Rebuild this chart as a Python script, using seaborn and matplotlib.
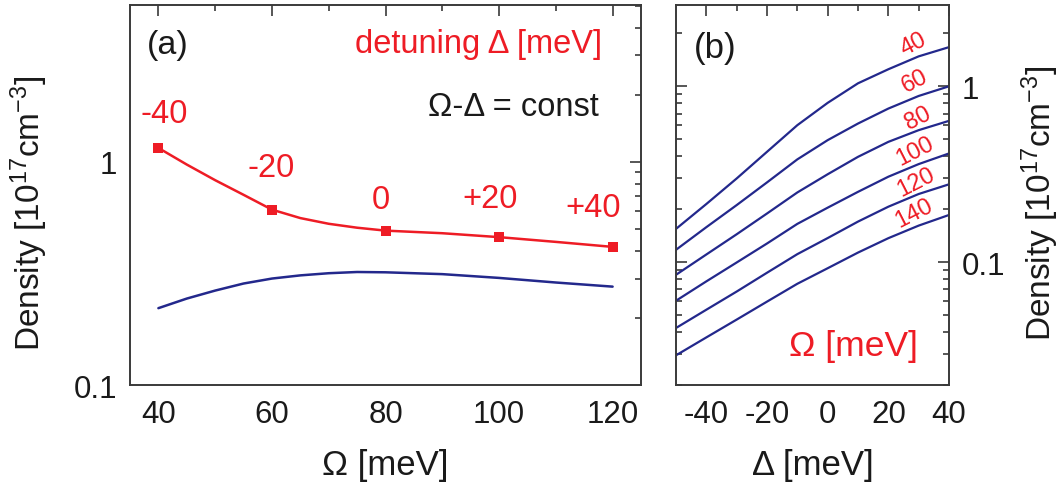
import numpy as np
import pandas as pd
import matplotlib
matplotlib.use("Agg")
import matplotlib.pyplot as plt
import seaborn as sns
from matplotlib.ticker import FixedLocator, FixedFormatter, NullFormatter

# ---------------- data ----------------
# panel (a)
omega_pts = [40, 60, 80, 100, 120]
density_pts = [1.155, 0.611, 0.492, 0.460, 0.416]
detuning_labels = ["-40", "-20", "0", "+20", "+40"]
label_omega = [41.1, 59.8, 79.2, 98.4, 116.5]
label_density = [1.64, 0.94, 0.677, 0.683, 0.625]

omega_curve = [40, 45, 50, 55, 60, 65, 70, 75, 80, 90, 100, 110, 120]
red_curve = [1.155, 0.973, 0.828, 0.712, 0.611, 0.560, 0.528, 0.507, 0.492, 0.479, 0.460, 0.438, 0.416]
blue_curve = [0.221, 0.244, 0.265, 0.285, 0.300, 0.310, 0.317, 0.321, 0.320, 0.314, 0.302, 0.288, 0.276]

# panel (b)
delta = [-50, -40, -30, -20, -10, 0, 10, 20, 30, 40]
omega_values = ["40", "60", "80", "100", "120", "140"]
dens_40 = [0.1545, 0.214, 0.299, 0.424, 0.601, 0.805, 1.04, 1.25, 1.48, 1.67]
dens_60 = [0.1175, 0.158, 0.211, 0.284, 0.384, 0.494, 0.614, 0.747, 0.881, 1.0]
dens_80 = [0.0847, 0.1105, 0.144, 0.189, 0.249, 0.316, 0.397, 0.483, 0.563, 0.636]
dens_100 = [0.0603, 0.0777, 0.0995, 0.1276, 0.165, 0.204, 0.251, 0.306, 0.361, 0.415]
dens_120 = [0.0422, 0.0536, 0.068, 0.087, 0.111, 0.137, 0.170, 0.2066, 0.244, 0.277]
dens_140 = [0.0295, 0.0373, 0.0471, 0.0596, 0.0753, 0.0923, 0.1133, 0.1368, 0.1613, 0.1854]
curve_label_delta = [28.4, 28.8, 29.75, 28.8, 29.1, 28.4]
curve_label_density = [1.75, 1.07, 0.667, 0.428, 0.285, 0.19]

# ---------------- style ----------------
sns.set_theme(style="white")
plt.rcParams["font.family"] = ["Liberation Sans", "DejaVu Sans"]
plt.rcParams["mathtext.fontset"] = "custom"
plt.rcParams["mathtext.rm"] = "Liberation Sans"
plt.rcParams["mathtext.it"] = "Liberation Sans:italic"
plt.rcParams["axes.unicode_minus"] = False

RED = "#ee1c25"
BLUE = "#23288c"
SPINE = "#3a3a3a"
TXT = "#1a1a1a"

W, H = 1063, 485
fig = plt.figure(figsize=(W / 100, H / 100), dpi=100)
fig.patch.set_facecolor("white")

def frac(l, t, r, b):
    return [l / W, (H - b) / H, (r - l) / W, (b - t) / H]

axA = fig.add_axes(frac(130, 6, 641, 386))
axB = fig.add_axes(frac(676, 6, 949, 386))

def style_axes(ax):
    for s in ax.spines.values():
        s.set_color(SPINE)
        s.set_linewidth(1.4)
    ax.tick_params(which="both", direction="in", top=True, right=True,
                   color=SPINE, width=1.2, labelsize=22.5, labelcolor=TXT)
    ax.tick_params(which="major", length=8)
    ax.tick_params(which="minor", length=4.5)

# ---------------- panel (a) ----------------
dfa = pd.DataFrame({"omega": omega_curve, "red": red_curve, "blue": blue_curve})
sns.lineplot(data=dfa, x="omega", y="red", ax=axA, color=RED, lw=1.8)
sns.lineplot(data=dfa, x="omega", y="blue", ax=axA, color=BLUE, lw=1.8)
sns.scatterplot(x=omega_pts, y=density_pts, ax=axA, marker="s", s=60,
                color=RED, edgecolor=RED, linewidth=0, zorder=5)
axA.set_yscale("log")
axA.set_xlim(35, 125)
axA.set_ylim(0.1, 5.05)
axA.set_xticks([40, 60, 80, 100, 120])
axA.set_xticks([50, 70, 90, 110], minor=True)
axA.yaxis.set_major_locator(FixedLocator([0.1, 1]))
axA.yaxis.set_major_formatter(FixedFormatter(["0.1", "1"]))
minorsA = [v * 0.1 for v in range(2, 10)] + [2, 3, 4, 5]
axA.yaxis.set_minor_locator(FixedLocator(minorsA))
axA.yaxis.set_minor_formatter(NullFormatter())
style_axes(axA)
axA.tick_params(axis="x", pad=10)
axA.tick_params(axis="y", pad=9)
axA.set_xlabel("\u03a9 [meV]", fontsize=25, color=TXT, labelpad=14)
axA.set_ylabel("Density [10$^{17}$cm$^{-3}$]", fontsize=24, color=TXT)
axA.yaxis.set_label_coords(-0.156, 0.455)

for xo, yo, t in zip(label_omega, label_density, detuning_labels):
    axA.text(xo, yo, t, color=RED, fontsize=23.5, ha="center", va="center")
axA.text(0.033, 0.897, "(a)", transform=axA.transAxes, fontsize=24.5,
         color=TXT, ha="left", va="center")
axA.text(0.924, 0.90, "detuning \u0394 [meV]", transform=axA.transAxes,
         fontsize=23.5, color=RED, ha="right", va="center")
axA.text(0.918, 0.734, "\u03a9-\u0394 = const", transform=axA.transAxes,
         fontsize=23.5, color=TXT, ha="right", va="center")

# ---------------- panel (b) ----------------
series = [dens_40, dens_60, dens_80, dens_100, dens_120, dens_140]
dfb = pd.concat([pd.DataFrame({"delta": delta, "density": s, "omega": o})
                 for s, o in zip(series, omega_values)], ignore_index=True)
sns.lineplot(data=dfb, x="delta", y="density", hue="omega",
             palette=[BLUE] * len(omega_values), ax=axB, lw=1.6, legend=False)
axB.set_yscale("log")
axB.set_xlim(-50, 40)
axB.set_ylim(0.02, 2.9)
axB.set_xticks([-40, -20, 0, 20, 40])
axB.set_xticks([-30, -10, 10, 30], minor=True)
axB.yaxis.set_major_locator(FixedLocator([0.1, 1]))
axB.yaxis.set_major_formatter(FixedFormatter(["0.1", "1"]))
minorsB = [v * 0.01 for v in range(2, 10)] + [v * 0.1 for v in range(2, 10)] + [2]
axB.yaxis.set_minor_locator(FixedLocator(minorsB))
axB.yaxis.set_minor_formatter(NullFormatter())
style_axes(axB)
axB.yaxis.tick_right()
axB.yaxis.set_label_position("right")
axB.tick_params(which="both", left=True, right=True, labelleft=False, labelright=True)
axB.tick_params(axis="x", pad=10)
axB.tick_params(axis="y", pad=9)
axB.set_xlabel("\u0394 [meV]", fontsize=25, color=TXT, labelpad=14)
axB.set_ylabel("Density [10$^{17}$cm$^{-3}$]", fontsize=24, color=TXT)
axB.yaxis.set_label_coords(1.26, 0.482)

for xd, yd, t in zip(curve_label_delta, curve_label_density, omega_values):
    axB.text(xd, yd, t, color=RED, fontsize=17, rotation=27,
             ha="center", va="center", rotation_mode="anchor")
axB.text(0.066, 0.887, "(b)", transform=axB.transAxes, fontsize=25,
         color=TXT, ha="left", va="center")
axB.text(0.885, 0.103, "\u03a9 [meV]", transform=axB.transAxes,
         fontsize=25.5, color=RED, ha="right", va="center")

fig.savefig("out.png", dpi=100, facecolor="white")
